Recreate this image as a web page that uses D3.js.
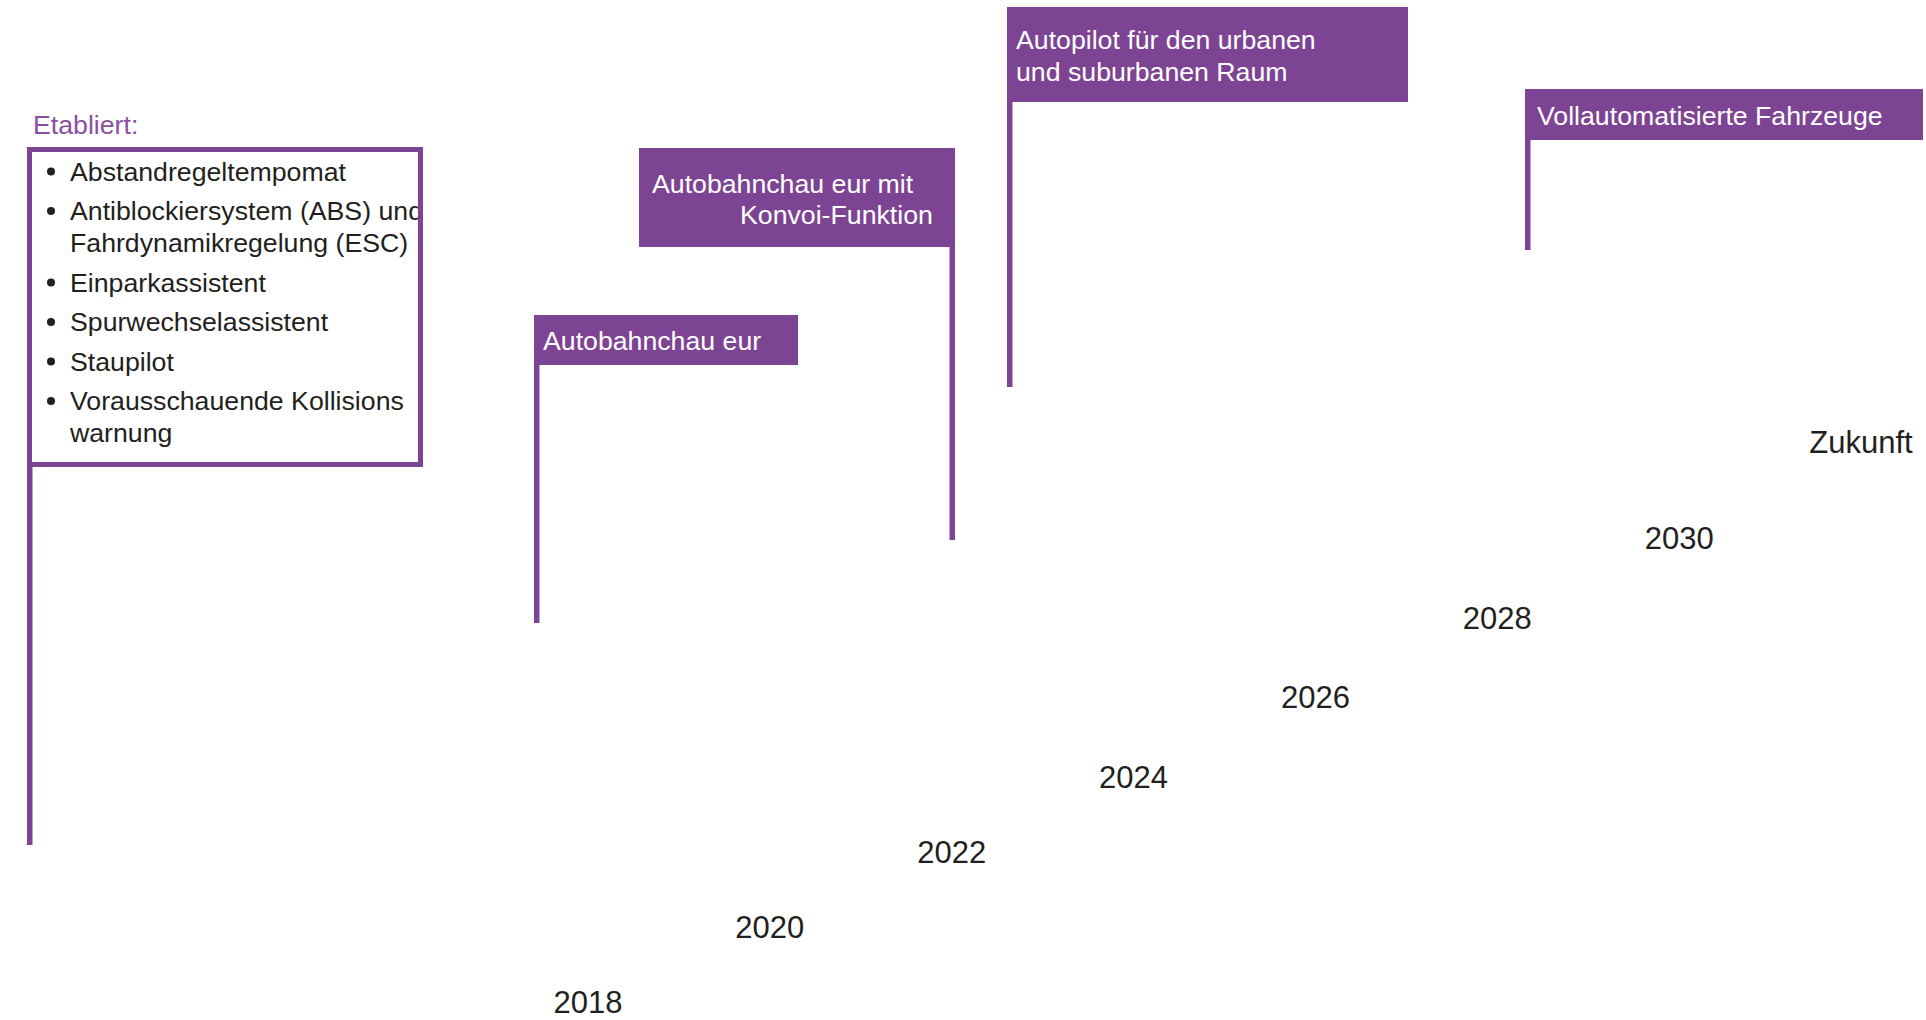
<!DOCTYPE html>
<html>
<head>
<meta charset="utf-8">
<script src="https://cdn.jsdelivr.net/npm/d3@7"></script>
<style>
  body { margin: 0; background: #fff; }
  svg { display: block; font-family: "Liberation Sans", Arial, sans-serif; }
</style>
</head>
<body>
<div id="chart"></div>
<script>
// Timeline data
const yearLabels = ['2018', '2020', '2022', '2024', '2026', '2028', '2030', 'Zukunft']
const yearValues = [2018, 2020, 2022, 2024, 2026, 2028, 2030, 2032]

const establishedTitle = 'Etabliert:'
const establishedItems = [
  ['Abstandregeltempomat'],
  ['Antiblockiersystem (ABS) und', 'Fahrdynamikregelung (ESC)'],
  ['Einparkassistent'],
  ['Spurwechselassistent'],
  ['Staupilot'],
  ['Vorausschauende Kollisions', 'warnung']
]

const milestoneLabels = [
  ['Autobahnchau eur'],
  ['Autobahnchau eur mit', 'Konvoi-Funktion'],
  ['Autopilot für den urbanen', 'und suburbanen Raum'],
  ['Vollautomatisierte Fahrzeuge']
]

// Layout (kept apart from the data)
const width = 1926
const height = 1020
const purple = '#7e4494'
const textDark = '#231f20'
const fontSize = 26.7

const flagLayout = [
  { x: 534, y: 315, w: 264, h: 50, pole: 'left', poleEnd: 623, textX: 543, baselines: [350], indent: [0] },
  { x: 639, y: 148, w: 316, h: 99, pole: 'right', poleEnd: 540, textX: 652, baselines: [193, 224], indent: [0, 88] },
  { x: 1007, y: 7, w: 401, h: 95, pole: 'left', poleEnd: 387, textX: 1016, baselines: [49, 81], indent: [0, 0] },
  { x: 1525, y: 89, w: 398, h: 51, pole: 'left', poleEnd: 250, textX: 1537, baselines: [125], indent: [0] }
]
const listBox = { x: 29.5, y: 149.5, w: 391, h: 315, stroke: 5, poleEnd: 845 }
const poleWidth = 5.5

const svg = d3.select('#chart')
  .append('svg')
  .attr('width', width)
  .attr('height', height)

// Year labels along the diagonal
const x = d3.scaleLinear().domain([2018, 2032]).range([588, 1861])
const y = d3.scaleLinear().domain([2018, 2024, 2030, 2032]).range([1013, 788, 549, 453])

svg.append('g')
  .selectAll('text')
  .data(yearValues)
  .join('text')
  .attr('x', d => x(d))
  .attr('y', d => y(d))
  .attr('text-anchor', 'middle')
  .attr('font-size', 31)
  .attr('fill', textDark)
  .text((d, i) => yearLabels[i])

// Established box
svg.append('text')
  .attr('x', 33)
  .attr('y', 134)
  .attr('font-size', fontSize)
  .attr('fill', '#8a50a0')
  .text(establishedTitle)

svg.append('rect')
  .attr('x', listBox.x - listBox.stroke / 2)
  .attr('y', listBox.y + listBox.h)
  .attr('width', poleWidth)
  .attr('height', listBox.poleEnd - listBox.y - listBox.h)
  .attr('fill', purple)

svg.append('rect')
  .attr('x', listBox.x)
  .attr('y', listBox.y)
  .attr('width', listBox.w)
  .attr('height', listBox.h)
  .attr('fill', 'none')
  .attr('stroke', purple)
  .attr('stroke-width', listBox.stroke)

svg.append('clipPath')
  .attr('id', 'listClip')
  .append('rect')
  .attr('x', listBox.x + listBox.stroke / 2)
  .attr('y', listBox.y + listBox.stroke / 2)
  .attr('width', listBox.w - listBox.stroke)
  .attr('height', listBox.h - listBox.stroke)

const list = svg.append('g').attr('clip-path', 'url(#listClip)')
const lineH = 32
const itemGap = 7.5
let base = 180.5
establishedItems.forEach(item => {
  list.append('circle')
    .attr('cx', 51)
    .attr('cy', base - 9)
    .attr('r', 4)
    .attr('fill', textDark)
  item.forEach((line, j) => {
    list.append('text')
      .attr('x', 70)
      .attr('y', base + j * lineH)
      .attr('font-size', fontSize)
      .attr('fill', textDark)
      .text(line)
  })
  base += item.length * lineH + itemGap
})

// Milestone flags
const flags = svg.append('g')
  .selectAll('g')
  .data(milestoneLabels)
  .join('g')

flags.append('rect')
  .attr('x', (d, i) => {
    const f = flagLayout[i]
    return f.pole === 'left' ? f.x : f.x + f.w - poleWidth
  })
  .attr('y', (d, i) => flagLayout[i].y + flagLayout[i].h - 1)
  .attr('width', poleWidth)
  .attr('height', (d, i) => flagLayout[i].poleEnd - flagLayout[i].y - flagLayout[i].h + 1)
  .attr('fill', purple)

flags.append('rect')
  .attr('x', (d, i) => flagLayout[i].x)
  .attr('y', (d, i) => flagLayout[i].y)
  .attr('width', (d, i) => flagLayout[i].w)
  .attr('height', (d, i) => flagLayout[i].h)
  .attr('fill', purple)

flags.each(function (lines, i) {
  const f = flagLayout[i]
  d3.select(this)
    .selectAll('text')
    .data(lines)
    .join('text')
    .attr('x', (d, j) => f.textX + f.indent[j])
    .attr('y', (d, j) => f.baselines[j])
    .attr('font-size', fontSize)
    .attr('fill', '#fff')
    .text(d => d)
})
</script>
</body>
</html>
